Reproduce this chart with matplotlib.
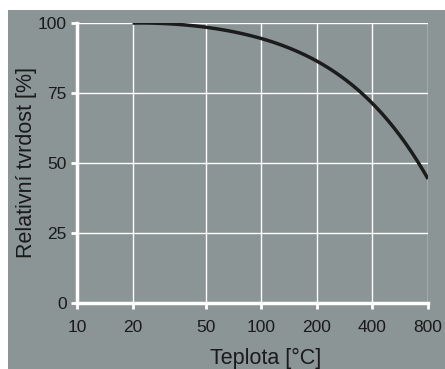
import numpy as np
import matplotlib
matplotlib.use("Agg")
import matplotlib.pyplot as plt
from matplotlib.patches import Rectangle

# data
temp = [20, 25, 30, 40, 50, 70, 100, 141, 200, 283, 400, 566, 800]
hardness = [100, 99.9, 99.8, 99.3, 98.5, 96.8, 94.5, 91.0, 86.5, 80.0, 71.0, 59.8, 44.3]
xticks = [10, 20, 50, 100, 200, 400, 800]
yticks = [0, 25, 50, 75, 100]

bg = "#8b9595"
plt.rcParams["font.family"] = ["Liberation Sans", "DejaVu Sans"]

fig = plt.figure(figsize=(4.45, 3.69), dpi=100, facecolor="white")
fig.patches.append(Rectangle((8 / 445, 0), 1, 1 - 10 / 369, transform=fig.transFigure,
                             facecolor=bg, edgecolor="none", zorder=-10))
ax = fig.add_axes([77 / 445, 1 - 303 / 369, (428 - 77) / 445, (303 - 23) / 369])
ax.set_facecolor(bg)

# smooth the read-off points in log space
lx = np.log10(temp)
fine = np.linspace(lx[0], lx[-1], 200)
coef = np.polyfit(lx, hardness, 5)
ax.plot(10 ** fine, np.polyval(coef, fine), color="#1c1c1c", lw=2.5,
        solid_capstyle="butt", zorder=3)

ax.set_xscale("log")
ax.set_xlim(10, 800)
ax.set_ylim(0, 100)
ax.set_xticks(xticks)
ax.set_xticklabels([str(t) for t in xticks])
ax.minorticks_off()
ax.set_yticks(yticks)
ax.grid(True, color="white", lw=1)
ax.set_axisbelow(True)

for s in ["top", "right"]:
    ax.spines[s].set_visible(False)
for s in ["left", "bottom"]:
    ax.spines[s].set_color("white")
    ax.spines[s].set_linewidth(2.5)

ax.tick_params(colors="white", labelcolor="#1a1a1a", labelsize=12.5, length=4, width=2)
ax.tick_params(axis="x", pad=8)
ax.set_xlabel("Teplota [°C]", fontsize=15.5, color="#1a1a1a")
ax.xaxis.set_label_coords(0.536, -0.16)
ax.xaxis.label.set_va("top")
ax.set_ylabel("Relativní tvrdost [%]", fontsize=15.5, color="#1a1a1a", labelpad=0.5)

fig.savefig("out.png", dpi=100, facecolor="white")
